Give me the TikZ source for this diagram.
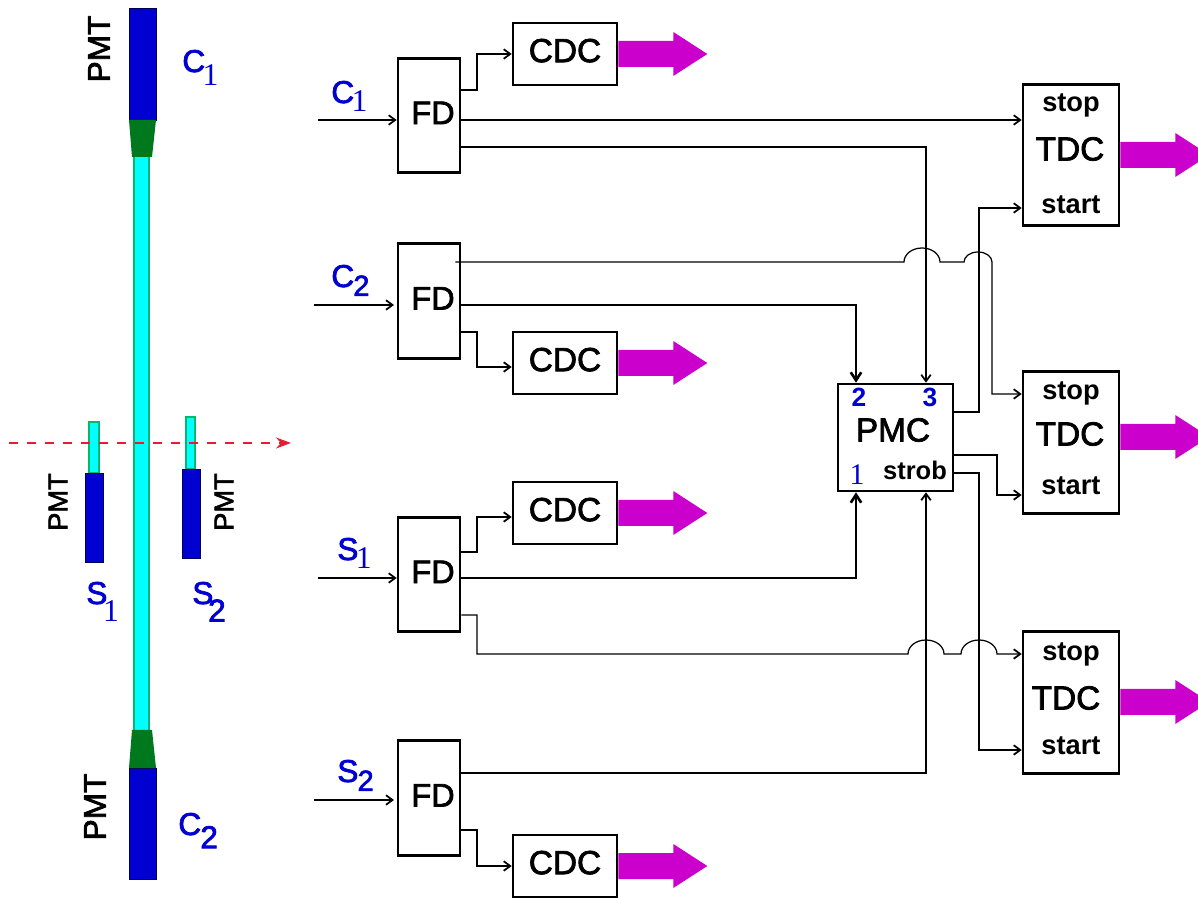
\documentclass[tikz,border=0pt]{standalone}
\usepackage{fontspec}
\setmainfont{Liberation Sans}
\newfontfamily\serf{Liberation Serif}
\newfontfamily\heavy[FakeBold=2.2]{Liberation Sans}
\usetikzlibrary{arrows.meta,calc}
\definecolor{pmtblue}{RGB}{0,0,208}
\definecolor{tubecyan}{RGB}{0,255,255}
\definecolor{tubeedge}{RGB}{0,185,110}
\definecolor{guidegreen}{RGB}{0,120,30}
\definecolor{outpurple}{RGB}{204,0,204}
\definecolor{beamred}{RGB}{225,30,50}
\tikzset{
  cdc/.style  ={draw,line width=1.5pt,minimum width=2.08cm,minimum height=1.24cm,inner sep=0pt,
                text depth=4pt,font=\heavy\fontsize{19}{20}\selectfont},
  fd/.style   ={draw,line width=1.5pt,minimum width=1.24cm,minimum height=2.29cm,inner sep=0pt,
                text depth=3pt,font=\heavy\fontsize{18.5}{20}\selectfont},
  tdc/.style  ={draw,line width=1.5pt,minimum width=1.92cm,minimum height=2.83cm,inner sep=0pt},
  pmc/.style  ={draw,line width=1.5pt,minimum width=2.3cm,minimum height=2.14cm,inner sep=0pt},
  big/.style  ={font=\heavy\fontsize{19}{20}\selectfont,inner sep=0pt},
  small/.style={font=\bfseries\fontsize{15.5}{18}\selectfont,inner sep=0pt},
  num/.style  ={font=\bfseries\fontsize{15}{18}\selectfont,text=pmtblue,inner sep=0pt},
  pmt/.style  ={rotate=90,inner sep=0pt,font=\heavy\fontsize{18}{20}\selectfont},
  pmts/.style ={rotate=90,inner sep=0pt,font=\heavy\fontsize{15.5}{18}\selectfont},
  chan/.style ={anchor=base west,inner sep=0pt,text=pmtblue,font=\heavy\fontsize{18}{20}\selectfont},
  ar/.style   ={line width=.7pt,-{Straight Barb[length=1.3mm,width=1.9mm,line width=1pt]}},
  arb/.style  ={line width=.7pt,-{Straight Barb[length=1.6mm,width=2.1mm,line width=1.5pt]}},
}
\newcommand{\outarrow}[2]{\fill[outpurple] ($(#1.east |- 0,#2)+(0,-13)$) -- ++(55,0) -- ++(0,-9) -- ++(34,22) -- ++(-34,22) -- ++(0,-9) -- ++(-55,0) -- cycle;}
\newcommand{\subone}[1][5pt]{\kern-1.5pt\raisebox{-#1}{\serf 1}}
\newcommand{\subtwo}[2][5pt]{\kern-.5pt\raisebox{-#1}{\fontsize{#2}{18}\selectfont 2}}
\begin{document}
\begin{tikzpicture}[x=0.02cm,y=-0.02cm]
  \clip (0,0) rectangle (1198,898);
  % counters on the left
  \draw[tubeedge,fill=tubecyan,line width=.8pt] (134,150) rectangle (149,735);
  \fill[pmtblue,draw=black!60!pmtblue,line width=.5pt] (129,8) rectangle (156,120);
  \fill[pmtblue,draw=black!60!pmtblue,line width=.5pt] (129,768) rectangle (156,879);
  \fill[guidegreen] (129,120) -- (156,120) -- (152,157) -- (132,157) -- cycle;
  \fill[guidegreen] (129,768) -- (156,768) -- (152,730) -- (132,730) -- cycle;
  \draw[tubeedge,fill=tubecyan,line width=.8pt] (89,422) rectangle (99,473);
  \draw[tubeedge,fill=tubecyan,line width=.8pt] (186,417) rectangle (195,469);
  \fill[pmtblue,draw=black!60!pmtblue,line width=.5pt] (85,473) rectangle (103,562);
  \fill[pmtblue,draw=black!60!pmtblue,line width=.5pt] (182,469) rectangle (200,558);
  \coordinate (beamA) at (9,443);
  \coordinate (beamB) at (291,443);
  \draw[beamred,line width=.8pt,dash pattern=on 1.9mm off 1.7mm,-{Stealth[length=3mm,width=2.2mm]}] (beamA) -- (beamB);
  \node[pmt] (pmtCa) at (99,49) {PMT};
  \node[pmt] (pmtCb) at (95,807) {PMT};
  \node[pmts] (pmtSa) at (58,502) {PMT};
  \node[pmts] (pmtSb) at (224,502) {PMT};
  \node[chan] (tagCa) at (182,72) {C\subone[7.5pt]};
  \node[chan] (tagCb) at (178,835) {C\subtwo[7.5pt]{18}};
  \node[chan] (tagSa) at (86,604) {S\kern-1pt\subone[10pt]};
  \node[chan] (tagSb) at (192,604) {S\kern-2.5pt\subtwo[10pt]{18}};

  % electronics
  \node[fd] (FDa) at (429,115.5) {\hspace*{1.6mm}FD};
  \node[fd] (FDb) at (429,301) {\hspace*{1.6mm}FD};
  \node[fd] (FDc) at (429,574.5) {\hspace*{1.6mm}FD};
  \node[fd] (FDd) at (429,798) {\hspace*{1.6mm}FD};
  \node[cdc] (CDCa) at (565,54) {CDC};
  \node[cdc] (CDCb) at (565,363) {CDC};
  \node[cdc] (CDCc) at (565,513) {CDC};
  \node[cdc] (CDCd) at (565,866) {CDC};
  \node[tdc] (TDCa) at (1071,155) {};
  \node[tdc] (TDCb) at (1071,442.5) {};
  \node[tdc] (TDCc) at (1071,702.5) {};
  \node[pmc] (PMC) at (895.5,437.5) {};
  \node[big] (txtTa) at (1070,149) {TDC};
  \node[big] (txtTb) at (1070,434) {TDC};
  \node[big] (txtTc) at (1066,698) {TDC};
  \node[small] (stopa) at (1071,105) {stop};
  \node[small] (stopb) at (1071,393) {stop};
  \node[small] (stopc) at (1071,654) {stop};
  \node[small] (starta) at (1071,205) {start};
  \node[small] (startb) at (1071,486) {start};
  \node[small] (startc) at (1071,746) {start};
  \node[big] (txtP) at (893,430) {PMC};
  \node[small,font=\bfseries\fontsize{14.5}{18}\selectfont] (strob) at (915,470) {strob};
  \node[num] (numb) at (859,397) {2};
  \node[num] (numc) at (930,397) {3};
  \node[num,font=\serf\fontsize{17}{18}\selectfont] (numa) at (857,475) {1};
  \node[chan] (labCa) at (331,103) {C\subone};
  \node[chan] (labCb) at (331,287) {C\subtwo{16.5}};
  \node[chan] (labSa) at (337,560) {S\subone};
  \node[chan] (labSb) at (337,782) {S\subtwo{16.5}};

  \coordinate (inCa) at (318,120);
  \coordinate (inCb) at (314,305);
  \coordinate (inSa) at (318,578);
  \coordinate (inSb) at (314,800);
  \draw[ar] (inCa) -- (FDa.west |- inCa);
  \draw[ar] (inCb) -- (394,305);
  \draw[ar] (inSa) -- (FDc.west |- inSa);
  \draw[ar] (inSb) -- (394,800);

  \draw[ar] (FDa.east |- 0,90) -- (477,90) |- (CDCa.west |- 0,54);
  \draw[ar] (FDb.east |- 0,332) -- (477,332) |- (CDCb.west |- 0,367);
  \draw[ar] (FDc.east |- 0,552) -- (477,552) |- (CDCc.west |- 0,517);
  \draw[ar] (FDd.east |- 0,830) -- (477,830) |- (CDCd.west |- 0,866);

  \draw[ar] (FDa.east |- 0,120) -- (TDCa.west |- 0,120);
  \draw[ar] (FDa.east |- 0,147) -| (PMC.north -| 926,0);
  \draw[arb] (FDb.east |- 0,305) -| (PMC.north -| 856,0);
  \draw[arb] (FDc.east |- 0,578) -| (PMC.south -| 856,0);
  \draw[ar] (FDd.east |- 0,773) -| (PMC.south -| 926,0);

  % lines with jumps over the verticals
  \draw[ar] ([xshift=-1.2mm]FDb.east |- 0,262) -- (904,262)
    arc[start angle=180,end angle=360,x radius=18,y radius=14] -- (964,262)
    arc[start angle=180,end angle=360,x radius=14,y radius=10] |- (TDCb.west |- 0,394);
  \draw[ar] (FDc.east |- 0,615) -- (477,615) -- (477,654) -- (908,654)
    arc[start angle=180,end angle=360,x radius=18,y radius=14] -- (961,654)
    arc[start angle=180,end angle=360,x radius=18,y radius=14] -- (TDCc.west |- 0,654);

  \draw[ar] (PMC.east |- 0,412) -- (979,412) |- (TDCa.west |- 0,208);
  \draw[ar] (PMC.east |- 0,455) -- (997,455) |- (TDCb.west |- 0,495);
  \draw[ar] (PMC.east |- 0,473) -- (979,473) |- (TDCc.west |- 0,750);

  \outarrow{CDCa}{54}
  \outarrow{CDCb}{363}
  \outarrow{CDCc}{513}
  \outarrow{CDCd}{866}
  \outarrow{TDCa}{155}
  \outarrow{TDCb}{437}
  \outarrow{TDCc}{702}
\end{tikzpicture}
\end{document}
